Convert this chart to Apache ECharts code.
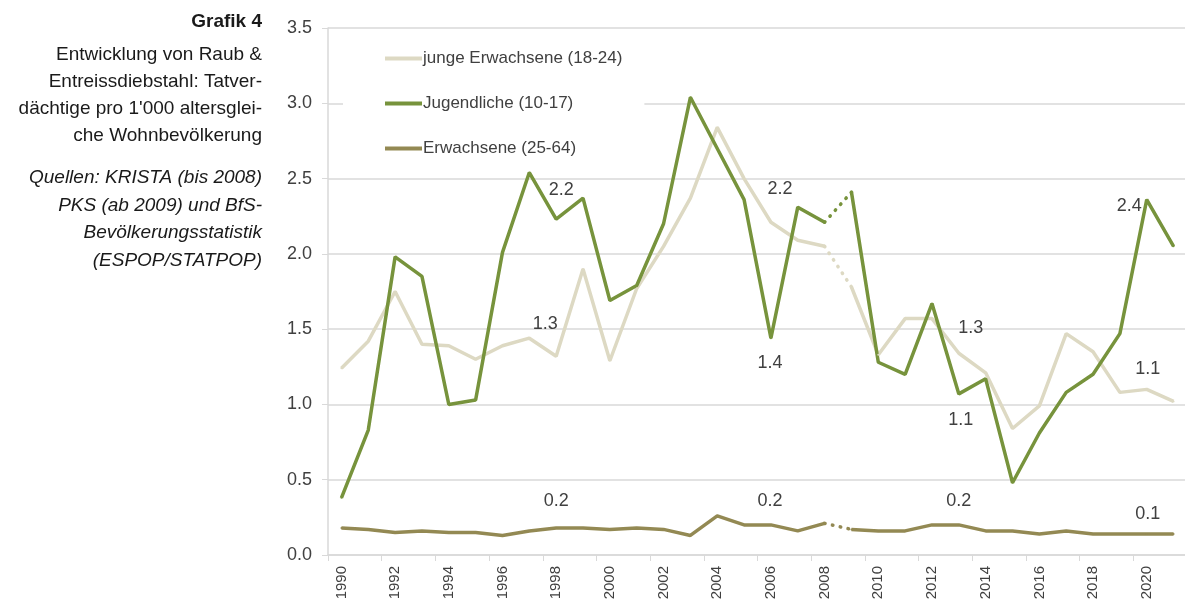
<!DOCTYPE html>
<html>
  <head>
    <meta charset="utf-8" />
    <title>Grafik 4</title>
    <script src="https://cdn.jsdelivr.net/npm/echarts@6/dist/echarts.min.js"></script>
    <style>
      html, body { margin: 0; padding: 0; background: #fff; }
    </style>
  </head>
  <body>
    <div id="main" style="width: 1185px; height: 601px"></div>
  </body>

  <script>
    // Jahre 1990-2021
    var years = [
      "1990", "1991", "1992", "1993", "1994", "1995", "1996", "1997",
      "1998", "1999", "2000", "2001", "2002", "2003", "2004", "2005",
      "2006", "2007", "2008", "2009", "2010", "2011", "2012", "2013",
      "2014", "2015", "2016", "2017", "2018", "2019", "2020", "2021"
    ];

    // Tatverdächtige pro 1'000
    var jungeErwachsene = [
      1.24, 1.42, 1.75, 1.40, 1.39, 1.30, 1.39, 1.44,
      1.32, 1.90, 1.29, 1.77, 2.05, 2.37, 2.84, 2.50,
      2.21, 2.09, 2.05, 1.78, 1.33, 1.57, 1.57, 1.34,
      1.21, 0.84, 0.99, 1.47, 1.35, 1.08, 1.10, 1.02
    ];
    var jugendliche = [
      0.38, 0.83, 1.98, 1.85, 1.00, 1.03, 2.01, 2.54,
      2.23, 2.37, 1.69, 1.79, 2.20, 3.04, 2.70, 2.36,
      1.44, 2.31, 2.21, 2.41, 1.28, 1.20, 1.67, 1.07,
      1.17, 0.48, 0.81, 1.08, 1.20, 1.47, 2.36, 2.05
    ];
    var erwachsene = [
      0.18, 0.17, 0.15, 0.16, 0.15, 0.15, 0.13, 0.16,
      0.18, 0.18, 0.17, 0.18, 0.17, 0.13, 0.26, 0.20,
      0.20, 0.16, 0.21, 0.17, 0.16, 0.16, 0.20, 0.20,
      0.16, 0.16, 0.14, 0.16, 0.14, 0.14, 0.14, 0.14
    ];

    var yTicks = ["0.0", "0.5", "1.0", "1.5", "2.0", "2.5", "3.0", "3.5"];

    // Bruch: KRISTA bis 2008, PKS ab 2009
    var lastKrista = years.indexOf("2008");

    var FONT = "'Liberation Sans', Arial, sans-serif";
    var TXT = "#404040";

    // Beschriftete Punkte: [position, offset]
    var labelsLight = { 1998: ["top", [-11, -17]], 2006: ["top", [9, -18]], 2013: ["top", [12, -10]], 2020: ["top", [1, -5]] };
    var labelsGreen = { 1998: ["top", [5, -14]], 2006: ["bottom", [-1, 10]], 2013: ["bottom", [2, 11]], 2020: ["left", [1, 6]] };
    var labelsOlive = { 1998: ["top", [0, -12]], 2006: ["top", [-1, -9]], 2013: ["top", [0, -9]], 2020: ["top", [1, -5]] };

    function part(values, from, to, labels) {
      return values.map(function (v, i) {
        if (i < from || i > to) return "-";
        var lab = labels && labels[years[i]];
        if (!lab) return v;
        return {
          value: v,
          label: {
            show: true,
            position: lab[0],
            offset: lab[1],
            distance: 5,
            color: TXT,
            fontFamily: FONT,
            fontSize: 18,
            formatter: function (p) { return Number(p.value).toFixed(1); }
          }
        };
      });
    }

    function group(name, values, color, labels) {
      var base = {
        name: name,
        type: "line",
        symbol: "circle",
        symbolSize: 2,
        showSymbol: true,
        showAllSymbol: true,
        silent: true,
        itemStyle: { color: color },
        lineStyle: { color: color, width: 3.5 }
      };
      return [
        Object.assign({}, base, { data: part(values, 0, lastKrista, labels) }),
        Object.assign({}, base, { data: part(values, lastKrista + 1, values.length - 1, labels) }),
        Object.assign({}, base, {
          symbol: "none",
          data: part(values, lastKrista, lastKrista + 1, null),
          lineStyle: { color: color, width: 3.5, type: [0.5, 7.5], cap: "round" }
        })
      ];
    }

    var myChart = echarts.init(document.getElementById("main"));

    var option = {
      backgroundColor: "#fff",
      animation: false,
      textStyle: { fontFamily: FONT },
      grid: { left: 328, top: 28, width: 859, height: 527, outerBoundsMode: "none", containLabel: false },
      legend: {
        orient: "vertical",
        left: 343,
        top: 36,
        padding: [14, 22, 12, 42],
        backgroundColor: "#fff",
        itemWidth: 37,
        itemHeight: 4,
        itemGap: 28,
        icon: "rect",
        data: ["junge Erwachsene (18-24)", "Jugendliche (10-17)", "Erwachsene (25-64)"],
        textStyle: { color: TXT, fontSize: 17, fontFamily: FONT, padding: [0, 0, 0, -4] },
        selectedMode: false
      },
      xAxis: {
        type: "category",
        data: years,
        boundaryGap: true,
        axisLine: { lineStyle: { color: "#d9d9d9", width: 1.5 } },
        axisTick: { show: true, length: 6, lineStyle: { color: "#d9d9d9" } },
        axisLabel: {
          interval: 1,
          rotate: 90,
          margin: 11,
          color: TXT,
          fontSize: 15,
          fontFamily: FONT
        },
        splitLine: { show: false }
      },
      yAxis: {
        type: "value",
        min: 0,
        max: 3.5,
        interval: 0.5,
        axisLine: { show: true, lineStyle: { color: "#d9d9d9", width: 1.5 } },
        axisTick: { show: true, length: 6, lineStyle: { color: "#d9d9d9" } },
        axisLabel: {
          margin: 16,
          color: TXT,
          fontSize: 18,
          fontFamily: FONT,
          formatter: function (v) { return yTicks[Math.round(v / 0.5)]; }
        },
        splitLine: { lineStyle: { color: "#d9d9d9", width: 1.5 } }
      },
      graphic: [
        {
          type: "text",
          x: 262, y: 22,
          style: {
            text: "Grafik 4",
            font: "bold 19px " + FONT,
            fill: "#1a1a1a",
            align: "right", textAlign: "right",
            verticalAlign: "middle", textVerticalAlign: "middle"
          }
        },
        {
          type: "text",
          x: 262, y: 41,
          style: {
            text: "Entwicklung von Raub &\nEntreissdiebstahl: Tatver-\ndächtige pro 1'000 altersglei-\nche Wohnbevölkerung",
            font: "19px " + FONT,
            lineHeight: 27,
            fill: "#1a1a1a",
            align: "right", textAlign: "right",
            verticalAlign: "top", textVerticalAlign: "top"
          }
        },
        {
          type: "text",
          x: 262, y: 164,
          style: {
            text: "Quellen: KRISTA (bis 2008)\nPKS (ab 2009) und BfS-\nBevölkerungsstatistik\n(ESPOP/STATPOP)",
            font: "italic 19px " + FONT,
            lineHeight: 27.5,
            fill: "#1a1a1a",
            align: "right", textAlign: "right",
            verticalAlign: "top", textVerticalAlign: "top"
          }
        }
      ],
      series: [].concat(
        group("junge Erwachsene (18-24)", jungeErwachsene, "#ddd9c3", labelsLight),
        group("Jugendliche (10-17)", jugendliche, "#77933c", labelsGreen),
        group("Erwachsene (25-64)", erwachsene, "#938953", labelsOlive)
      )
    };

    myChart.setOption(option);
  </script>
</html>
